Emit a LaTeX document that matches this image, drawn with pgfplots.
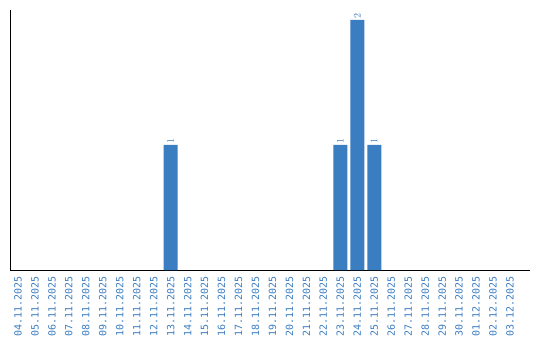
\documentclass[border=0pt]{standalone}
\usepackage{fontspec}
\setmainfont{DejaVu Sans}
\setmonofont{DejaVu Sans Mono}
\usepackage{pgfplots}
\pgfplotsset{compat=1.18}
\definecolor{barblue}{HTML}{3B7DC1}
\newcommand{\lblfont}{\ttfamily\fontsize{10}{11}\selectfont}
\begin{document}
\begin{tikzpicture}
\begin{axis}[
  scale only axis,
  width=520bp, height=260bp,
  ybar, bar width=14bp,
  xmin=-0.47, xmax=30.18,
  ymin=0, ymax=2.08,
  axis x line*=bottom, axis y line*=left,
  axis line style={black, line width=0.9bp, -},
  ytick=\empty,
  xtick={0,...,29},
  major tick length=0pt,
  xticklabels={04.11.2025,05.11.2025,06.11.2025,07.11.2025,08.11.2025,09.11.2025,10.11.2025,11.11.2025,12.11.2025,13.11.2025,14.11.2025,15.11.2025,16.11.2025,17.11.2025,18.11.2025,19.11.2025,20.11.2025,21.11.2025,22.11.2025,23.11.2025,24.11.2025,25.11.2025,26.11.2025,27.11.2025,28.11.2025,29.11.2025,30.11.2025,01.12.2025,02.12.2025,03.12.2025},
  xticklabel style={rotate=90, anchor=east, inner xsep=6bp, inner ysep=0pt, font=\lblfont, text=barblue},
  nodes near coords,
  nodes near coords style={rotate=90, anchor=west, inner xsep=1.5bp, inner ysep=0pt, font=\lblfont, text=barblue, scale=1},
]
\addplot[fill=barblue, draw=none] coordinates {(9,1) (19,1) (20,2) (21,1)};
\end{axis}
\pgfresetboundingbox
\path ([xshift=-10bp,yshift=-70bp]current axis.south west) rectangle ([xshift=10bp,yshift=10bp]current axis.north east);
\end{tikzpicture}
\end{document}
